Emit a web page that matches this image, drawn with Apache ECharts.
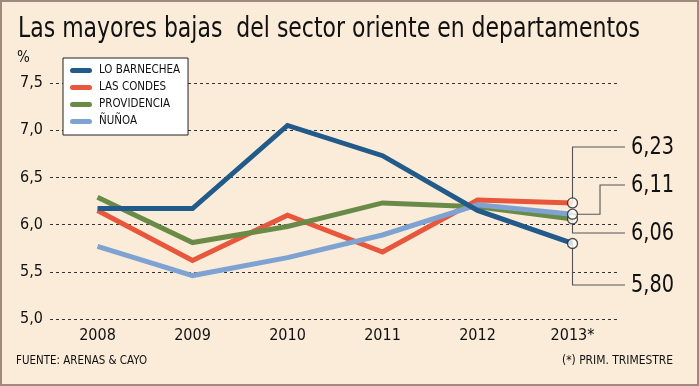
<!DOCTYPE html>
<html>
<head>
<meta charset="utf-8">
<script src="https://cdn.jsdelivr.net/npm/echarts@6/dist/echarts.min.js"></script>
<style>
html,body{margin:0;padding:0;background:#faecd9;}
#frame{position:absolute;left:0;top:0;width:699px;height:386px;box-sizing:border-box;border:2px solid #a08a7e;background:#faecd9;}
#chart{position:absolute;left:0;top:0;width:699px;height:386px;}
</style>
</head>
<body>
<div id="frame"></div>
<div id="chart"></div>
<script>
// ---- data ----
var categories = ['2008', '2009', '2010', '2011', '2012', '2013*'];
var loBarnechea = [6.17, 6.17, 7.05, 6.73, 6.15, 5.80];
var lasCondes   = [6.15, 5.62, 6.10, 5.71, 6.26, 6.23];
var providencia = [6.29, 5.81, 5.98, 6.23, 6.19, 6.06];
var nunoa       = [5.77, 5.46, 5.65, 5.89, 6.21, 6.11];
var seriesNames = ['LO BARNECHEA', 'LAS CONDES', 'PROVIDENCIA', 'ÑUÑOA'];
var yTicks = { min: 5, max: 7.5, interval: 0.5 };

// ---- style ----
var colors = ['#225a89', '#e8563b', '#6a8b47', '#7ea2d2'];
var FAM = '"DejaVu Sans Condensed", "DejaVu Sans", sans-serif';
var allValues = [loBarnechea, lasCondes, providencia, nunoa];
// annotation layout (label vertical position in px, optional elbow x)
var annot = [
  { s: 0, labelY: 285 },
  { s: 1, labelY: 147 },
  { s: 2, labelY: 233 },
  { s: 3, labelY: 185, elbowX: 600 }
];

var mctx = document.createElement('canvas').getContext('2d');
function fitScale(text, size, target) {
  mctx.font = size + 'px ' + FAM;
  var w = mctx.measureText(text).width;
  return w > 0 ? Math.min(1, target / w) : 1;
}
function fitText(text, x, y, size, target, align, z) {
  var s = fitScale(text, size, target);
  return {
    type: 'text', z: z || 20, silent: true,
    x: x, y: y, scaleX: s, scaleY: 1,
    style: { text: text, x: 0, y: 0, font: size + 'px ' + FAM, fill: '#111', verticalAlign: 'middle', align: align || 'left' }
  };
}

var chart = echarts.init(document.getElementById('chart'), null, { renderer: 'canvas' });
var fmt = function (v) { return Number(v).toFixed(2).replace('.', ','); };

var series = allValues.map(function (vals, i) {
  return {
    name: seriesNames[i],
    type: 'line',
    data: vals,
    symbol: 'none',
    z: i === 0 ? 4 : 3,
    lineStyle: { color: colors[i], width: 5, join: 'miter' },
    itemStyle: { color: colors[i] },
    emphasis: { disabled: true },
    animation: false
  };
});
series.push({
  name: 'fin',
  type: 'scatter',
  data: allValues.map(function (vals) { return [categories.length - 1, vals[vals.length - 1]]; }),
  symbol: 'circle',
  symbolSize: 10,
  itemStyle: { color: '#ffffff', borderColor: '#222', borderWidth: 1.3 },
  z: 10,
  silent: true,
  animation: false
});

var capsule = 'path://M2.5,0 L19.5,0 A2.5,2.5 0 0 1 19.5,5 L2.5,5 A2.5,2.5 0 0 1 2.5,0 Z';

chart.setOption({
  animation: false,
  backgroundColor: 'transparent',
  grid: { left: 50, right: 79, top: 83, bottom: 67 },
  xAxis: {
    type: 'category',
    data: categories,
    boundaryGap: true,
    axisLine: { show: false },
    axisTick: { show: false },
    axisLabel: { margin: 9, fontFamily: FAM, fontSize: 16, color: '#111' },
    splitLine: { show: false }
  },
  yAxis: {
    type: 'value',
    min: yTicks.min, max: yTicks.max, interval: yTicks.interval,
    axisLine: { show: false },
    axisTick: { show: false },
    axisLabel: {
      margin: 7, fontFamily: FAM, fontSize: 16, color: '#111',
      formatter: function (v) { return v.toFixed(1).replace('.', ','); }
    },
    splitLine: { show: true, lineStyle: { color: '#333', width: 1, type: [3, 3] } }
  },
  legend: {
    data: seriesNames.map(function (n) { return { name: n, icon: capsule }; }),
    orient: 'vertical',
    left: 63, top: 58,
    backgroundColor: '#ffffff',
    borderColor: '#222', borderWidth: 1,
    padding: [6, 8, 7, 7],
    itemWidth: 22, itemHeight: 5, itemGap: 4,
    selectedMode: false,
    textStyle: { fontFamily: FAM, fontSize: 11.5, color: '#111', lineHeight: 13, padding: [0, 0, 0, 2] }
  },
  series: series
});

// texts and annotations (annotation anchors computed through the chart's scales)
var g = [];
g.push(fitText('Las mayores bajas  del sector oriente en departamentos', 18, 30, 28, 622, 'left'));
g.push(fitText('%', 17, 58, 15, 100, 'left'));
g.push(fitText('FUENTE: ARENAS & CAYO', 16, 361, 12, 131, 'left'));
g.push(fitText('(*) PRIM. TRIMESTRE', 673, 361, 12, 111, 'right'));

annot.forEach(function (a) {
  var vals = allValues[a.s];
  var v = vals[vals.length - 1];
  var p = chart.convertToPixel({ gridIndex: 0 }, [categories.length - 1, v]);
  var endX = 625;
  var pts;
  if (a.elbowX) {
    pts = [[p[0], p[1]], [a.elbowX, p[1]], [a.elbowX, a.labelY], [endX, a.labelY]];
  } else {
    pts = [[p[0], p[1]], [p[0], a.labelY], [endX, a.labelY]];
  }
  g.push({ type: 'polyline', z: 1, silent: true, shape: { points: pts }, style: { stroke: '#555', lineWidth: 1.1, fill: null } });
  g.push(fitText(fmt(v), 631, a.labelY, 25, 43, 'left'));
});

chart.setOption({ graphic: g });
</script>
</body>
</html>
